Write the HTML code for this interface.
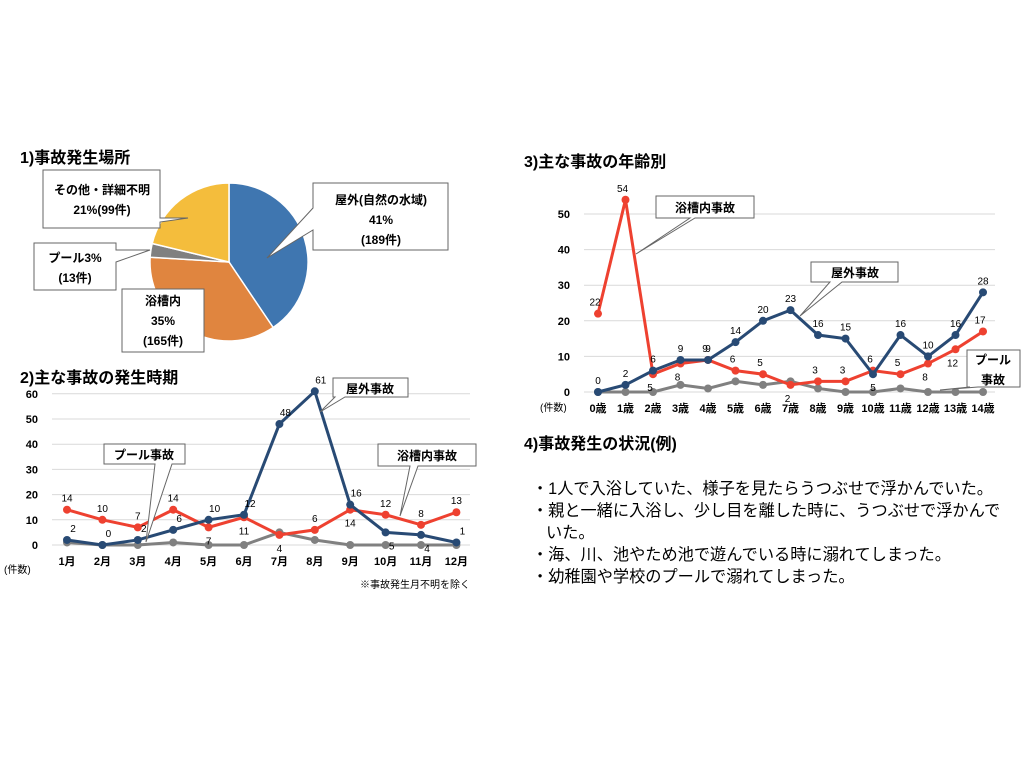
<!DOCTYPE html>
<html><head><meta charset="utf-8"><style>
body{margin:0;background:#fff;}
svg{display:block;font-family:"Liberation Sans","Noto Sans CJK JP",sans-serif;}
</style></head><body>
<svg id="s" width="1024" height="768" viewBox="0 0 1024 768">
<text x="20" y="163" font-size="16" font-weight="bold">1)事故発生場所</text>
<g id="pie"></g>
<text x="20" y="383" font-size="16" font-weight="bold">2)主な事故の発生時期</text>
<g id="c2"></g>
<text x="524" y="167" font-size="16" font-weight="bold">3)主な事故の年齢別</text>
<g id="c3"></g>
<text x="524" y="449" font-size="16" font-weight="bold">4)事故発生の状況(例)</text>
<g font-size="16.2">
<text x="532" y="494">・1人で入浴していた、様子を見たらうつぶせで浮かんでいた。</text>
<text x="532" y="516">・親と一緒に入浴し、少し目を離した時に、うつぶせで浮かんで</text>
<text x="546" y="538">いた。</text>
<text x="532" y="560">・海、川、池やため池で遊んでいる時に溺れてしまった。</text>
<text x="532" y="582">・幼稚園や学校のプールで溺れてしまった。</text>
</g>
</svg>
<script>
const NS="http://www.w3.org/2000/svg";
function mk(p,t,a,txt){const e=document.createElementNS(NS,t);for(const k in a)e.setAttribute(k,a[k]);if(txt!==undefined)e.textContent=txt;p.appendChild(e);return e;}
// pie data
const pieLabels=["屋外","浴槽内","プール","その他"];
const pieValues=[189,165,13,99];
const pieColors=["#3f76b0","#e0853f","#808080","#f4bd3c"];
// month data
const months=["1月","2月","3月","4月","5月","6月","7月","8月","9月","10月","11月","12月"];
const monthOutdoor=[2,0,2,6,10,12,48,61,16,5,4,1];
const monthBath=[14,10,7,14,7,11,4,6,14,12,8,13];
const monthPool=[1,0,0,1,0,0,5,2,0,0,0,0];
const monthTicks=[0,10,20,30,40,50,60];
// age data
const ages=["0歳","1歳","2歳","3歳","4歳","5歳","6歳","7歳","8歳","9歳","10歳","11歳","12歳","13歳","14歳"];
const ageOutdoor=[0,2,6,9,9,14,20,23,16,15,5,16,10,16,28];
const ageBath=[22,54,5,8,9,6,5,2,3,3,6,5,8,12,17];
const agePool=[0,0,0,2,1,3,2,3,1,0,0,1,0,0,0];
const ageTicks=[0,10,20,30,40,50];

const pie=document.getElementById('pie');
const cx=229,cy=262,r=79;let tot=pieValues.reduce((a,b)=>a+b,0),ang=0;
pieValues.forEach((v,i)=>{const a0=ang,a1=ang+v/tot*2*Math.PI;ang=a1;
 const x0=cx+r*Math.sin(a0),y0=cy-r*Math.cos(a0),x1=cx+r*Math.sin(a1),y1=cy-r*Math.cos(a1);
 const p=mk(pie,'path',{d:`M${cx},${cy}L${x0},${y0}A${r},${r} 0 ${a1-a0>Math.PI?1:0} 1 ${x1},${y1}Z`,fill:pieColors[i],stroke:'#fff','stroke-width':1.5});
 
 });
function callout(g,pts,lines,cxm,y0,name){const p=mk(g,'path',{d:pts,fill:'#fff',stroke:'#666','stroke-width':1});
 
 
 lines.forEach((t,i)=>{const e=mk(g,'text',{x:cxm,y:y0+i*20,'font-size':12,'font-weight':'bold','text-anchor':'middle'},t);
 
 });}
callout(pie,"M313,183H448V250H313V230L267,258L313,208Z",["屋外(自然の水域)","41%","(189件)"],381,204,'outdoor-label');
callout(pie,"M43,170H160V218L188,218L160,222V228H43Z",["その他・詳細不明","21%(99件)"],102,194,'other-label');
callout(pie,"M34,243H116V250L150,250L116,262V290H34Z",["プール3%","(13件)"],75,262,'pool-label');
callout(pie,"M122,289H204V352H122Z",["浴槽内","35%","(165件)"],163,305,'bath-label');

function lineChart(g,cats,series,ticks,x0,dx,y0,py,gx0,gx1){
 ticks.forEach(t=>{const y=y0-t*py;
  const l=mk(g,'line',{x1:gx0,x2:gx1,y1:y,y2:y,stroke:'#d9d9d9'});
  
  
  const tx=mk(g,'text',{x:gx0-14,y:y+4,'font-size':11,'font-weight':'bold','text-anchor':'end'},t);
  
  });
 cats.forEach((c,i)=>{const tx=mk(g,'text',{x:x0+i*dx,y:y0+20,'font-size':11,'font-weight':'bold','text-anchor':'middle'},c);
  
  });
 series.forEach(s=>{const pts=s.v.map((v,i)=>[x0+i*dx,y0-v*py]);
  const pl=mk(g,'polyline',{points:pts.map(p=>p.join(',')).join(' '),fill:'none',stroke:s.c,'stroke-width':3});
  
  
  pts.forEach((p,i)=>{const d=mk(g,'circle',{cx:p[0],cy:p[1],r:4,fill:s.c});
   
   
   if(s.lab){const below=s.below&&s.below.includes(i);
   const t=mk(g,'text',{x:p[0]+(s.dx||0),y:p[1]+(below?17:-8),'font-size':10,'text-anchor':'middle'},s.v[i]);
   
   }});});
}
const c2=document.getElementById('c2');
lineChart(c2,months,[{n:'pool',v:monthPool,c:'#808080',lab:false},{n:'bath',v:monthBath,c:'#ee4130',lab:true,below:[4,5,6,8]},{n:'outdoor',v:monthOutdoor,c:'#284a74',lab:true,dx:6,below:[9,10]}],monthTicks,67,35.4,545,2.52,52,470);
mk(c2,'text',{x:4,y:573,'font-size':10},'(件数)');
mk(c2,'text',{x:470,y:588,'font-size':10,'text-anchor':'end'},'※事故発生月不明を除く');
callout(c2,"M333,378H408V397H345L320,412L335,397H333Z",["屋外事故"],370,393,'month-outdoor-callout');
callout(c2,"M104,444H185V464H172L146,542L155,464H104Z",["プール事故"],144,459,'month-pool-callout');
callout(c2,"M378,444H476V466H418L400,516L410,466H378Z",["浴槽内事故"],427,460,'month-bath-callout');
const c3=document.getElementById('c3');
lineChart(c3,ages,[{n:'pool',v:agePool,c:'#808080',lab:false},{n:'bath',v:ageBath,c:'#ee4130',lab:true,dx:-3,below:[2,3,7,12,13]},{n:'outdoor',v:ageOutdoor,c:'#284a74',lab:true,below:[10]}],ageTicks,598,27.5,392,3.56,584,995);
mk(c3,'text',{x:540,y:411,'font-size':10},'(件数)');
callout(c3,"M656,196H754V218H695L636,254L690,218H656Z",["浴槽内事故"],705,212,'age-bath-callout');
callout(c3,"M811,262H898V282H842L800,316L830,282H811Z",["屋外事故"],855,277,'age-outdoor-callout');
callout(c3,"M967,350H1020V387H978L940,390L970,387H967Z",["プール","事故"],993,364,'age-pool-callout');
</script>
</body></html>
